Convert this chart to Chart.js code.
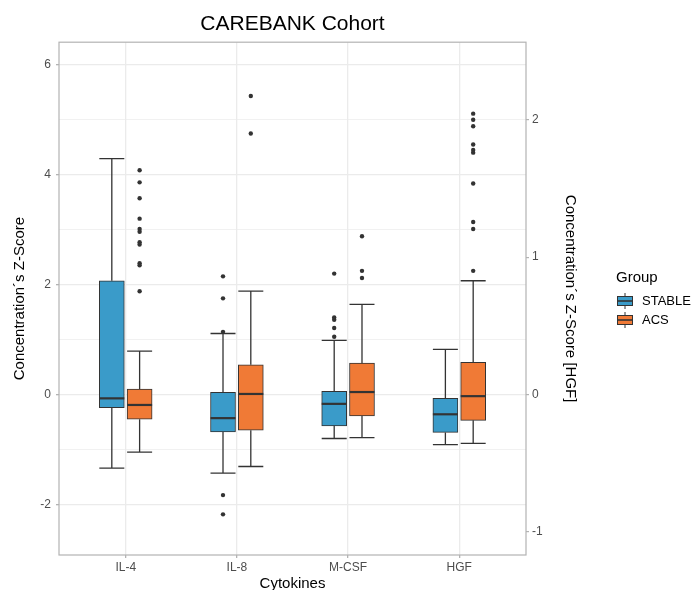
<!DOCTYPE html>
<html>
<head>
<meta charset="utf-8">
<script src="https://cdn.jsdelivr.net/npm/chart.js@4.4.1/dist/chart.umd.min.js"></script>
<style>
  html, body { margin: 0; padding: 0; background: #fff; }
  canvas { display: block; }
</style>
</head>
<body>
<canvas id="chart" width="693" height="590"></canvas>
<script>
const categories = ['IL-4', 'IL-8', 'M-CSF', 'HGF'];

// box stats per cytokine
const stableLow  = [-1.34, -1.43, -0.80, -0.91];
const stableQ1   = [-0.24, -0.68, -0.57, -0.69];
const stableMed  = [-0.07, -0.43, -0.17, -0.36];
const stableQ3   = [2.07, 0.04, 0.06, -0.07];
const stableHigh = [4.29, 1.11, 0.985, 0.82];

const acsLow  = [-1.05, -1.31, -0.785, -0.89];
const acsQ1   = [-0.45, -0.65, -0.39, -0.47];
const acsMed  = [-0.19, 0.01, 0.045, -0.03];
const acsQ3   = [0.10, 0.54, 0.57, 0.585];
const acsHigh = [0.79, 1.88, 1.64, 2.07];

const stableOutliers = [
  [],
  [2.15, 1.75, 1.14, -1.83, -2.18],
  [2.20, 1.40, 1.36, 1.21, 1.05],
  []
];
const acsOutliers = [
  [4.08, 3.86, 3.57, 3.20, 3.01, 2.96, 2.77, 2.73, 2.39, 2.35, 1.88],
  [5.43, 4.75],
  [2.88, 2.25, 2.12],
  [5.11, 5.00, 4.88, 4.55, 4.45, 4.40, 3.84, 3.14, 3.01, 2.25]
];

const leftTicks = [-2, -1, 0, 1, 2, 3, 4, 5, 6];
const rightTicks = [-1, 0, 1, 2];
const hgfFactor = 0.4; // right axis = left axis * 0.4

const STABLE_COLOR = '#3A9BC9';
const ACS_COLOR = '#F07A36';
const DARK = '#333333';
const dodge = 0.125;

const groups = [
  { name: 'STABLE', color: STABLE_COLOR, low: stableLow, q1: stableQ1, med: stableMed, q3: stableQ3, high: stableHigh, out: stableOutliers, shift: -dodge },
  { name: 'ACS', color: ACS_COLOR, low: acsLow, q1: acsQ1, med: acsMed, q3: acsQ3, high: acsHigh, out: acsOutliers, shift: dodge }
];

function boxData(g) {
  return g.q1.map((v, i) => ({ x: i + 1 + g.shift, y: [v, g.q3[i]] }));
}
function outlierData(g) {
  const pts = [];
  g.out.forEach((vals, i) => vals.forEach(v => pts.push({ x: i + 1 + g.shift, y: v })));
  return pts;
}

Chart.defaults.font.family = '"Liberation Sans", Arial, Helvetica, sans-serif';

const boxPlugin = {
  id: 'boxWhiskers',
  afterDatasetsDraw(chart) {
    const ctx = chart.ctx;
    const y = chart.scales.y;
    groups.forEach((g, di) => {
      const meta = chart.getDatasetMeta(di);
      meta.data.forEach((bar, i) => {
        const half = bar.width / 2;
        const yLow = y.getPixelForValue(g.low[i]);
        const yHigh = y.getPixelForValue(g.high[i]);
        const yQ1 = y.getPixelForValue(g.q1[i]);
        const yQ3 = y.getPixelForValue(g.q3[i]);
        const yMed = y.getPixelForValue(g.med[i]);
        ctx.save();
        ctx.strokeStyle = DARK;
        ctx.lineWidth = 1.3;
        ctx.beginPath();
        ctx.moveTo(bar.x, yQ3); ctx.lineTo(bar.x, yHigh);
        ctx.moveTo(bar.x, yQ1); ctx.lineTo(bar.x, yLow);
        ctx.moveTo(bar.x - half, yHigh); ctx.lineTo(bar.x + half, yHigh);
        ctx.moveTo(bar.x - half, yLow); ctx.lineTo(bar.x + half, yLow);
        ctx.stroke();
        ctx.lineWidth = 2.2;
        ctx.beginPath();
        ctx.moveTo(bar.x - half, yMed); ctx.lineTo(bar.x + half, yMed);
        ctx.stroke();
        ctx.restore();
      });
    });
  },
  afterDraw(chart) {
    const ctx = chart.ctx;
    const a = chart.chartArea;
    ctx.save();
    ctx.strokeStyle = '#b3b3b3';
    ctx.lineWidth = 1.2;
    ctx.strokeRect(a.left, a.top, a.right - a.left, a.bottom - a.top);

    // legend
    ctx.fillStyle = '#000';
    ctx.font = '15px "Liberation Sans", Arial, sans-serif';
    ctx.textBaseline = 'middle';
    ctx.textAlign = 'left';
    ctx.fillText('Group', 616, 278);
    groups.forEach((g, k) => {
      const cy = 301 + k * 19;
      const x0 = 617, x1 = 633, cx = 625;
      ctx.strokeStyle = DARK;
      ctx.lineWidth = 1;
      ctx.beginPath();
      ctx.moveTo(cx, cy - 8); ctx.lineTo(cx, cy + 8);
      ctx.stroke();
      ctx.fillStyle = g.color;
      ctx.fillRect(x0, cy - 5, x1 - x0, 10);
      ctx.strokeRect(x0 + 0.5, cy - 5 + 0.5, x1 - x0 - 1, 9);
      ctx.lineWidth = 1.6;
      ctx.beginPath();
      ctx.moveTo(x0, cy); ctx.lineTo(x1, cy);
      ctx.stroke();
      ctx.fillStyle = '#000';
      ctx.font = '13px "Liberation Sans", Arial, sans-serif';
      ctx.fillText(g.name, 642, cy);
    });
    ctx.restore();
  }
};

const datasets = [];
groups.forEach(g => {
  datasets.push({
    type: 'bar',
    label: g.name,
    data: boxData(g),
    backgroundColor: g.color,
    borderColor: DARK,
    borderWidth: 1,
    borderSkipped: false,
    barThickness: 25,
    grouped: false,
    yAxisID: 'y',
    order: 2
  });
});
groups.forEach(g => {
  datasets.push({
    type: 'scatter',
    label: g.name + ' outliers',
    data: outlierData(g),
    backgroundColor: DARK,
    borderWidth: 0,
    pointRadius: 2.2,
    yAxisID: 'y',
    order: 1
  });
});

new Chart(document.getElementById('chart').getContext('2d'), {
  type: 'bar',
  data: { datasets },
  options: {
    responsive: false,
    animation: false,
    layout: { padding: { left: 0, right: 107, top: 0, bottom: 0 } },
    plugins: {
      legend: { display: false },
      tooltip: { enabled: false },
      title: {
        display: true,
        text: 'CAREBANK Cohort',
        color: '#000',
        fullSize: false,
        font: { size: 21, weight: 'normal' },
        padding: { top: 12, bottom: 5 }
      }
    },
    scales: {
      x: {
        type: 'linear',
        min: 0.4,
        max: 4.6,
        offset: false,
        afterBuildTicks: s => { s.ticks = categories.map((c, i) => ({ value: i + 1 })); },
        afterFit: s => { s.height = 35; },
        ticks: {
          autoSkip: false,
          maxRotation: 0,
          padding: 2,
          color: '#4d4d4d',
          font: { size: 12 },
          callback: (v, i) => categories[i]
        },
        grid: { offset: false, color: '#ebebeb', lineWidth: 1.3, tickColor: '#b3b3b3', tickLength: 3 },
        border: { display: false },
        title: { display: true, text: 'Cytokines', color: '#000', font: { size: 15, lineHeight: 1 }, padding: { top: 0, bottom: -1 } }
      },
      y: {
        type: 'linear',
        position: 'left',
        min: -2.92,
        max: 6.41,
        afterBuildTicks: s => { s.ticks = leftTicks.map(v => ({ value: v })); },
        afterFit: s => { s.width = 59; },
        ticks: {
          padding: 5,
          color: '#4d4d4d',
          font: { size: 12 },
          callback: v => (v % 2 === 0 ? String(v) : '')
        },
        grid: {
          color: '#ebebeb',
          lineWidth: c => (c.tick && c.tick.value % 2 === 0 ? 1.3 : 0.7),
          tickColor: c => (c.tick && c.tick.value % 2 === 0 ? '#b3b3b3' : 'rgba(0,0,0,0)'),
          tickLength: 3
        },
        border: { display: false },
        title: { display: true, text: 'Concentration\u00b4s Z-Score', color: '#000', font: { size: 15, lineHeight: 1 }, padding: { top: 12, bottom: 0 } }
      },
      y2: {
        type: 'linear',
        position: 'right',
        min: -2.92 * hgfFactor,
        max: 6.41 * hgfFactor,
        afterBuildTicks: s => { s.ticks = rightTicks.map(v => ({ value: v })); },
        afterFit: s => { s.width = 60; },
        ticks: { padding: 3, color: '#4d4d4d', font: { size: 12 }, callback: v => String(v) },
        grid: { drawOnChartArea: false, tickColor: '#b3b3b3', tickLength: 3, lineWidth: 1.2 },
        border: { display: false },
        title: { display: true, text: 'Concentration\u00b4s Z-Score [HGF]', color: '#000', font: { size: 15, lineHeight: 1 }, padding: { top: 8, bottom: 0 } }
      }
    }
  },
  plugins: [boxPlugin]
});
</script>
</body>
</html>
